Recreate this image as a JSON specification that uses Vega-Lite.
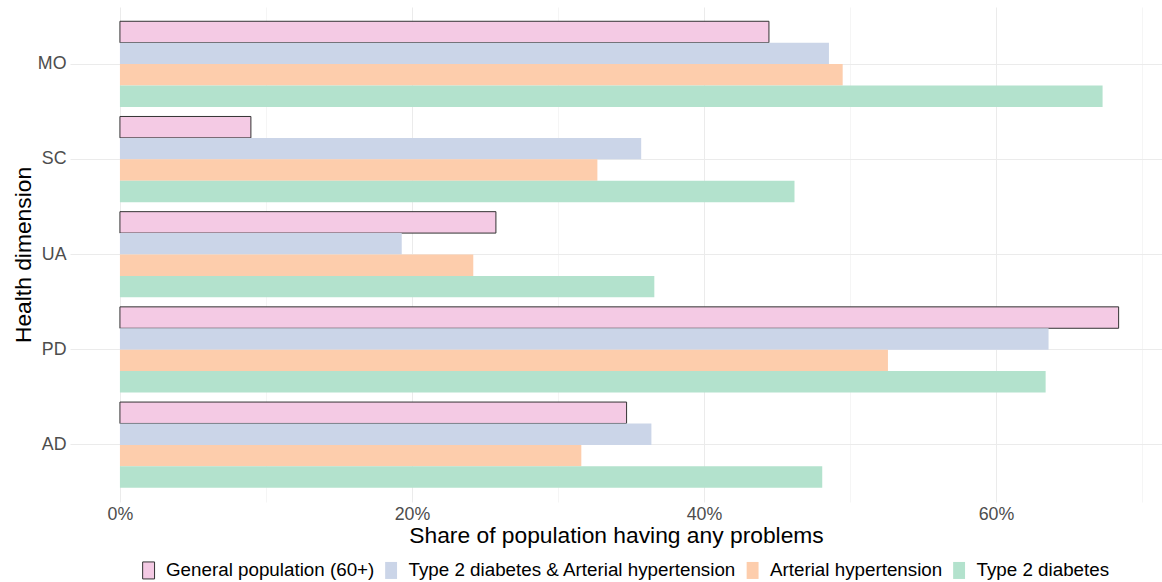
{
  "$schema": "https://vega.github.io/schema/vega-lite/v6.json",
  "autosize": {"type": "none"},
  "width": 1092,
  "height": 495,
  "padding": {"left": 70, "top": 7, "right": 0, "bottom": 80},
  "background": "white",
  "config": {
    "view": {"stroke": null},
    "font": "Liberation Sans",
    "axis": {"domain": false, "ticks": false, "tickSize": 0, "gridColor": "#EBEBEB", "labelColor": "#4D4D4D", "labelFontSize": 17.8, "titleFontSize": 22.8, "titleColor": "#000000", "titleFontWeight": "normal", "labelFont": "Liberation Sans", "titleFont": "Liberation Sans"},
    "legend": {"labelFont": "Liberation Sans", "labelFontSize": 18.8, "labelColor": "#000000"}
  },
  "data": {
    "values": [
      {"dim": "MO", "series": "General population (60+)", "share": 0.4445},
      {"dim": "MO", "series": "Type 2 diabetes & Arterial hypertension", "share": 0.4856},
      {"dim": "MO", "series": "Arterial hypertension", "share": 0.495},
      {"dim": "MO", "series": "Type 2 diabetes", "share": 0.673},
      {"dim": "SC", "series": "General population (60+)", "share": 0.0897},
      {"dim": "SC", "series": "Type 2 diabetes & Arterial hypertension", "share": 0.357},
      {"dim": "SC", "series": "Arterial hypertension", "share": 0.327},
      {"dim": "SC", "series": "Type 2 diabetes", "share": 0.462},
      {"dim": "UA", "series": "General population (60+)", "share": 0.2575},
      {"dim": "UA", "series": "Type 2 diabetes & Arterial hypertension", "share": 0.193},
      {"dim": "UA", "series": "Arterial hypertension", "share": 0.242},
      {"dim": "UA", "series": "Type 2 diabetes", "share": 0.366},
      {"dim": "PD", "series": "General population (60+)", "share": 0.684},
      {"dim": "PD", "series": "Type 2 diabetes & Arterial hypertension", "share": 0.636},
      {"dim": "PD", "series": "Arterial hypertension", "share": 0.526},
      {"dim": "PD", "series": "Type 2 diabetes", "share": 0.634},
      {"dim": "AD", "series": "General population (60+)", "share": 0.347},
      {"dim": "AD", "series": "Type 2 diabetes & Arterial hypertension", "share": 0.364},
      {"dim": "AD", "series": "Arterial hypertension", "share": 0.316},
      {"dim": "AD", "series": "Type 2 diabetes", "share": 0.481}
    ]
  },
  "mark": {"type": "bar", "strokeWidth": 1},
  "encoding": {
    "y": {
      "field": "dim", "type": "nominal",
      "sort": ["MO", "SC", "UA", "PD", "AD"],
      "scale": {"paddingInner": 0.1, "paddingOuter": 0.15},
      "axis": {"title": "Health dimension", "grid": true, "bandPosition": 0.5, "labelPadding": 4, "titlePadding": 2}
    },
    "yOffset": {
      "field": "series", "type": "nominal",
      "sort": ["General population (60+)", "Type 2 diabetes & Arterial hypertension", "Arterial hypertension", "Type 2 diabetes"],
      "scale": {"paddingInner": 0, "paddingOuter": 0}
    },
    "x": {
      "field": "share", "type": "quantitative",
      "scale": {"domain": [-0.0342, 0.7137], "nice": false},
      "axis": {
        "title": "Share of population having any problems",
        "values": [0, 0.1, 0.2, 0.3, 0.4, 0.5, 0.6, 0.7],
        "format": ".0%",
        "labelExpr": "round(datum.value * 10) % 2 == 0 ? datum.label : ''",
        "gridWidth": {"condition": {"test": "round(datum.value * 10) % 2 == 1", "value": 0.5}, "value": 1},
        "labelPadding": 3,
        "titlePadding": 2,
        "labelFlush": false
      }
    },
    "color": {
      "field": "series", "type": "nominal",
      "sort": ["General population (60+)", "Type 2 diabetes & Arterial hypertension", "Arterial hypertension", "Type 2 diabetes"],
      "scale": {
        "domain": ["General population (60+)", "Type 2 diabetes & Arterial hypertension", "Arterial hypertension", "Type 2 diabetes"],
        "range": ["#F4CAE4", "#CBD5E8", "#FDCDAC", "#B3E2CD"]
      },
      "legend": {
        "title": null,
        "orient": "none",
        "direction": "horizontal",
        "legendX": 69.2,
        "legendY": 554,
        "padding": 0,
        "symbolType": "M-0.7,-1H0.7V1H-0.7Z",
        "symbolSize": 289,
        "symbolStrokeWidth": 1,
        "labelOffset": 8,
        "columnPadding": 6.5,
        "labelLimit": 1000
      }
    },
    "stroke": {
      "field": "series", "type": "nominal",
      "sort": ["General population (60+)", "Type 2 diabetes & Arterial hypertension", "Arterial hypertension", "Type 2 diabetes"],
      "scale": {
        "domain": ["General population (60+)", "Type 2 diabetes & Arterial hypertension", "Arterial hypertension", "Type 2 diabetes"],
        "range": ["#333333", "transparent", "transparent", "transparent"]
      },
      "legend": {
        "title": null,
        "orient": "none",
        "direction": "horizontal",
        "legendX": 69.2,
        "legendY": 554,
        "padding": 0,
        "symbolType": "M-0.7,-1H0.7V1H-0.7Z",
        "symbolSize": 289,
        "symbolStrokeWidth": 1,
        "labelOffset": 8,
        "columnPadding": 6.5,
        "labelLimit": 1000
      }
    }
  }
}
